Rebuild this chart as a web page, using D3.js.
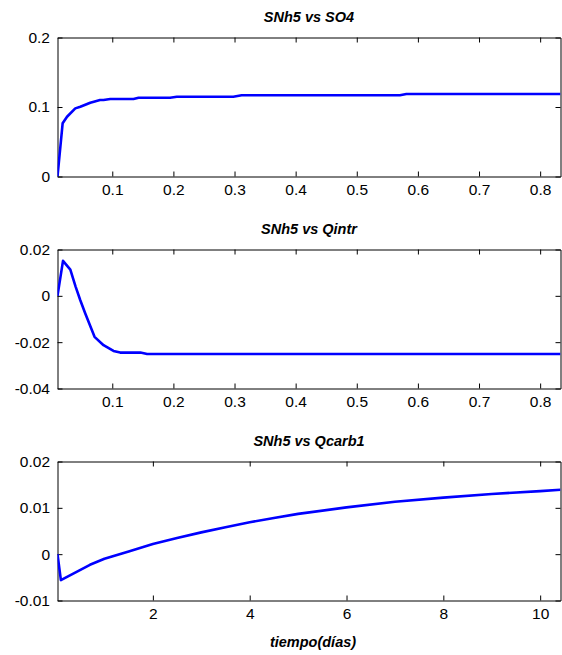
<!DOCTYPE html>
<html>
<head>
<meta charset="utf-8">
<script src="https://cdn.jsdelivr.net/npm/d3@7"></script>
<style>
  body { margin: 0; background: #fff; }
  svg text { font-family: "Liberation Sans", Arial, sans-serif; fill: #000; }
  .title { font-size: 14.5px; font-weight: bold; font-style: italic; }
  .tick text { font-size: 15.5px; }
</style>
</head>
<body>
<div id="chart"></div>
<script>
'use strict';

// SNh5 vs SO4
const so4Days = [0.0104, 0.0188, 0.026, 0.0395, 0.0477, 0.064, 0.080, 0.0857, 0.0967, 0.1347, 0.143, 0.1946, 0.2056, 0.298, 0.3117, 0.5706, 0.5812, 0.8333];
const so4Vals = [0, 0.0765, 0.086, 0.098, 0.1004, 0.1062, 0.110, 0.110, 0.1115, 0.1115, 0.1134, 0.1134, 0.1148, 0.1148, 0.1168, 0.1168, 0.1187, 0.1187];

// SNh5 vs Qintr
const qintrDays = [0.0104, 0.0194, 0.0314, 0.04, 0.0477, 0.056, 0.071, 0.0857, 0.102, 0.113, 0.146, 0.157, 0.8333];
const qintrVals = [0, 0.0151, 0.0113, 0.004, -0.0019, -0.0077, -0.0177, -0.0213, -0.0238, -0.0245, -0.0245, -0.0251, -0.0251];

// SNh5 vs Qcarb1
const qcarbDays = [0.03, 0.1, 0.7, 1.0, 1.5, 2, 2.5, 3, 3.5, 4, 4.5, 5, 6, 7, 8, 9, 10, 10.42];
const qcarbVals = [0, -0.0056, -0.0023, -0.0010, 0.0006, 0.0022, 0.0035, 0.0047, 0.0058, 0.0069, 0.0078, 0.0087, 0.0101, 0.0113, 0.0122, 0.0130, 0.0136, 0.0139];

const shortXTicks = [0.1, 0.2, 0.3, 0.4, 0.5, 0.6, 0.7, 0.8];
const longXTicks = [2, 4, 6, 8, 10];
const so4YTicks = [0, 0.1, 0.2];
const qintrYTicks = [-0.04, -0.02, 0, 0.02];
const qcarbYTicks = [-0.01, 0, 0.01, 0.02];

const titles = ['SNh5 vs SO4', 'SNh5 vs Qintr', 'SNh5 vs Qcarb1'];
const xLabel = 'tiempo(días)';

const WIDTH = 562, HEIGHT = 655;
const LEFT = 57.5, RIGHT = 560.5;
const TICK = 5;

const panels = [
    {title: titles[0], xs: so4Days, ys: so4Vals, xDomain: [0.0104, 0.8333], yDomain: [0, 0.2],
     xTicks: shortXTicks, yTicks: so4YTicks, top: 37.5, bottom: 176.5},
    {title: titles[1], xs: qintrDays, ys: qintrVals, xDomain: [0.0104, 0.8333], yDomain: [-0.04, 0.02],
     xTicks: shortXTicks, yTicks: qintrYTicks, top: 249.5, bottom: 388.5},
    {title: titles[2], xs: qcarbDays, ys: qcarbVals, xDomain: [0.03, 10.42], yDomain: [-0.01, 0.02],
     xTicks: longXTicks, yTicks: qcarbYTicks, top: 461.5, bottom: 600.5}
];

const fmt = d => String(+d.toFixed(4));

const svg = d3.select('#chart').append('svg')
    .attr('width', WIDTH)
    .attr('height', HEIGHT);

panels.forEach(function(p, i) {
    const x = d3.scaleLinear().domain(p.xDomain).range([LEFT, RIGHT]);
    const y = d3.scaleLinear().domain(p.yDomain).range([p.bottom, p.top]);
    const g = svg.append('g');

    g.append('clipPath').attr('id', 'clip' + i)
        .append('rect')
        .attr('x', LEFT).attr('y', p.top)
        .attr('width', RIGHT - LEFT).attr('height', p.bottom - p.top);

    // bottom + left with labels, top + right mirrored without
    g.append('g').attr('transform', 'translate(0,' + p.bottom + ')')
        .call(d3.axisBottom(x).tickValues(p.xTicks).tickFormat(fmt)
            .tickSizeInner(-TICK).tickSizeOuter(0).tickPadding(7.5));
    g.append('g').attr('transform', 'translate(0,' + p.top + ')')
        .call(d3.axisTop(x).tickValues(p.xTicks).tickFormat('')
            .tickSizeInner(-TICK).tickSizeOuter(0));
    g.append('g').attr('transform', 'translate(' + LEFT + ',0)')
        .call(d3.axisLeft(y).tickValues(p.yTicks).tickFormat(fmt)
            .tickSizeInner(-TICK).tickSizeOuter(0).tickPadding(7.5));
    g.append('g').attr('transform', 'translate(' + RIGHT + ',0)')
        .call(d3.axisRight(y).tickValues(p.yTicks).tickFormat('')
            .tickSizeInner(-TICK).tickSizeOuter(0));

    g.selectAll('.domain, .tick line').attr('stroke', '#000').attr('stroke-width', 1);
    g.selectAll('.tick text').attr('font-size', null).attr('font-family', null);

    const line = d3.line()
        .x((d, k) => x(p.xs[k]))
        .y(d => y(d));

    g.append('path')
        .datum(p.ys)
        .attr('clip-path', 'url(#clip' + i + ')')
        .attr('fill', 'none')
        .attr('stroke', '#0000ff')
        .attr('stroke-width', 2.6)
        .attr('stroke-linejoin', 'round')
        .attr('d', line);

    g.append('text')
        .attr('class', 'title')
        .attr('x', (LEFT + RIGHT) / 2)
        .attr('y', p.top - 15.5)
        .attr('text-anchor', 'middle')
        .text(p.title);
});

svg.append('text')
    .attr('class', 'title')
    .attr('x', (LEFT + RIGHT) / 2 + 4)
    .attr('y', 647)
    .attr('text-anchor', 'middle')
    .text(xLabel);
</script>
</body>
</html>
